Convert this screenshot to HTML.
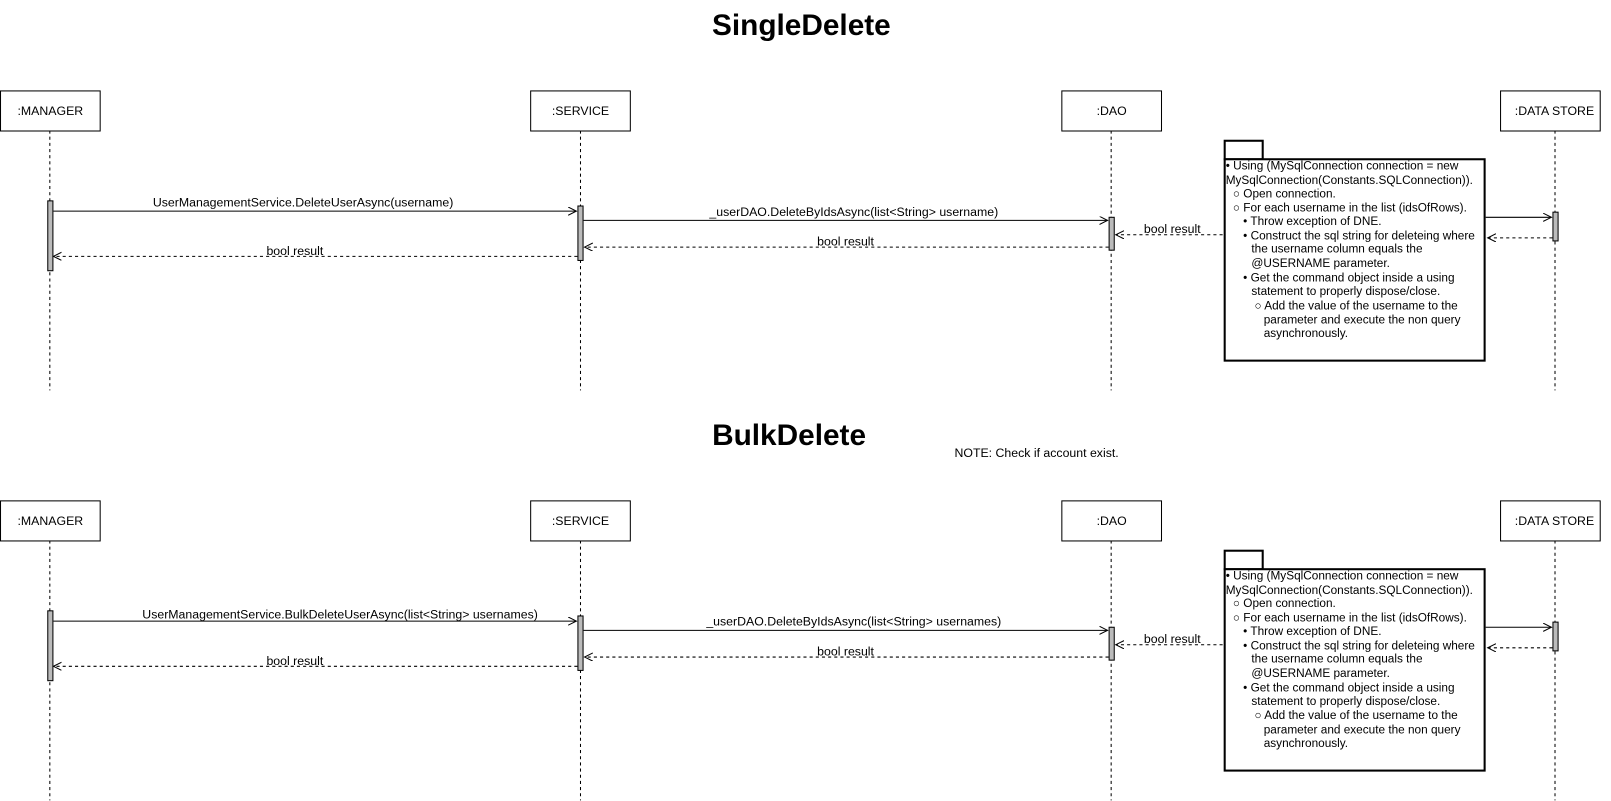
<!DOCTYPE html>
<html><head><meta charset="utf-8"><style>
html,body{margin:0;padding:0;background:#fff;}
svg{display:block;}
text{font-family:"Liberation Sans",Arial,sans-serif;fill:#000;}
</style></head><body>
<svg width="1611" height="801" viewBox="0 0 1568 779.6" preserveAspectRatio="none" xmlns="http://www.w3.org/2000/svg">
<defs>
<marker id="op" markerWidth="10" markerHeight="10" refX="8" refY="4" orient="auto" markerUnits="userSpaceOnUse"><path d="M0,0 L8,4 L0,8" fill="none" stroke="#000" stroke-width="1"/></marker>
<g id="diag">
  <!-- lifelines -->
  <g stroke="#000" stroke-dasharray="3,3" stroke-width="1">
    <line x1="48.5" y1="127" x2="48.5" y2="380"/>
    <line x1="565" y1="127" x2="565" y2="380"/>
    <line x1="1081.5" y1="127" x2="1081.5" y2="380"/>
    <line x1="1513.5" y1="127" x2="1513.5" y2="380"/>
  </g>
  <!-- boxes -->
  <g fill="#fff" stroke="#000" stroke-width="1">
    <rect x="0.5" y="88.5" width="97" height="39"/>
    <rect x="516.5" y="88.5" width="97" height="39"/>
    <rect x="1033.5" y="88.5" width="97" height="39"/>
    <rect x="1460.5" y="88.5" width="97" height="39"/>
  </g>
  <g font-size="12" text-anchor="middle">
    <text x="49" y="112">:MANAGER</text>
    <text x="565" y="112">:SERVICE</text>
    <text x="1082" y="112">:DAO</text>
    <text x="1513" y="112">:DATA STORE</text>
  </g>
  <!-- activations -->
  <g fill="#bbb" stroke="#000" stroke-width="1">
    <rect x="46.5" y="195.5" width="5" height="68"/>
    <rect x="562.5" y="200.5" width="5" height="53"/>
    <rect x="1079.5" y="211.5" width="5" height="32"/>
    <rect x="1511.5" y="206.5" width="5" height="28"/>
  </g>
  <!-- messages -->
  <g stroke="#000" stroke-width="1" fill="none">
    <line x1="52" y1="205.5" x2="561" y2="205.5" marker-end="url(#op)"/>
    <line x1="568" y1="214.5" x2="1078" y2="214.5" marker-end="url(#op)"/>
    <line x1="1079" y1="240.5" x2="569" y2="240.5" stroke-dasharray="3,3" marker-end="url(#op)"/>
    <line x1="562" y1="249.5" x2="52" y2="249.5" stroke-dasharray="3,3" marker-end="url(#op)"/>
    <line x1="1190" y1="228.5" x2="1086" y2="228.5" stroke-dasharray="3,3" marker-end="url(#op)"/>
    <line x1="1446" y1="211.5" x2="1510" y2="211.5" marker-end="url(#op)"/>
    <line x1="1511" y1="231.5" x2="1448" y2="231.5" stroke-dasharray="3,3" marker-end="url(#op)"/>
  </g>
  <g font-size="12" text-anchor="middle">
    <text x="823" y="239">bool result</text>
    <text x="287" y="248">bool result</text>
    <text x="1141" y="227">bool result</text>
  </g>
  <!-- note -->
  <g fill="#fff" stroke="#000" stroke-width="2">
    <rect x="1192" y="137" width="37" height="18"/>
    <rect x="1192" y="155" width="253" height="196"/>
  </g>
  <g font-size="11.5">
    <text x="1193" y="165">• Using (MySqlConnection connection = new</text>
    <text x="1193" y="179">MySqlConnection(Constants.SQLConnection)).</text>
    <text x="1200" y="192">○ Open connection.</text>
    <text x="1200" y="206">○ For each username in the list (idsOfRows).</text>
    <text x="1210" y="219">• Throw exception of DNE.</text>
    <text x="1210" y="233">• Construct the sql string for deleteing where</text>
    <text x="1218" y="246">the username column equals the</text>
    <text x="1218" y="260">@USERNAME parameter.</text>
    <text x="1210" y="274">• Get the command object inside a using</text>
    <text x="1218" y="287">statement to properly dispose/close.</text>
    <text x="1221" y="301">○ Add the value of the username to the</text>
    <text x="1230" y="315">parameter and execute the non query</text>
    <text x="1230" y="328">asynchronously.</text>
  </g>
</g>
</defs>
<text x="780" y="34" font-size="29" font-weight="bold" text-anchor="middle">SingleDelete</text>
<use href="#diag"/>
<g font-size="12" text-anchor="middle">
  <text x="295" y="201">UserManagementService.DeleteUserAsync(username)</text>
  <text x="831" y="210">_userDAO.DeleteByIdsAsync(list&lt;String&gt; username)</text>
</g>
<text x="768" y="433" font-size="29" font-weight="bold" text-anchor="middle">BulkDelete</text>
<text x="929" y="445" font-size="12">NOTE: Check if account exist.</text>
<g transform="translate(0,399)"><use href="#diag"/>
<g font-size="12" text-anchor="middle">
  <text x="331" y="203">UserManagementService.BulkDeleteUserAsync(list&lt;String&gt; usernames)</text>
  <text x="831" y="210">_userDAO.DeleteByIdsAsync(list&lt;String&gt; usernames)</text>
</g></g>
</svg>
</body></html>
